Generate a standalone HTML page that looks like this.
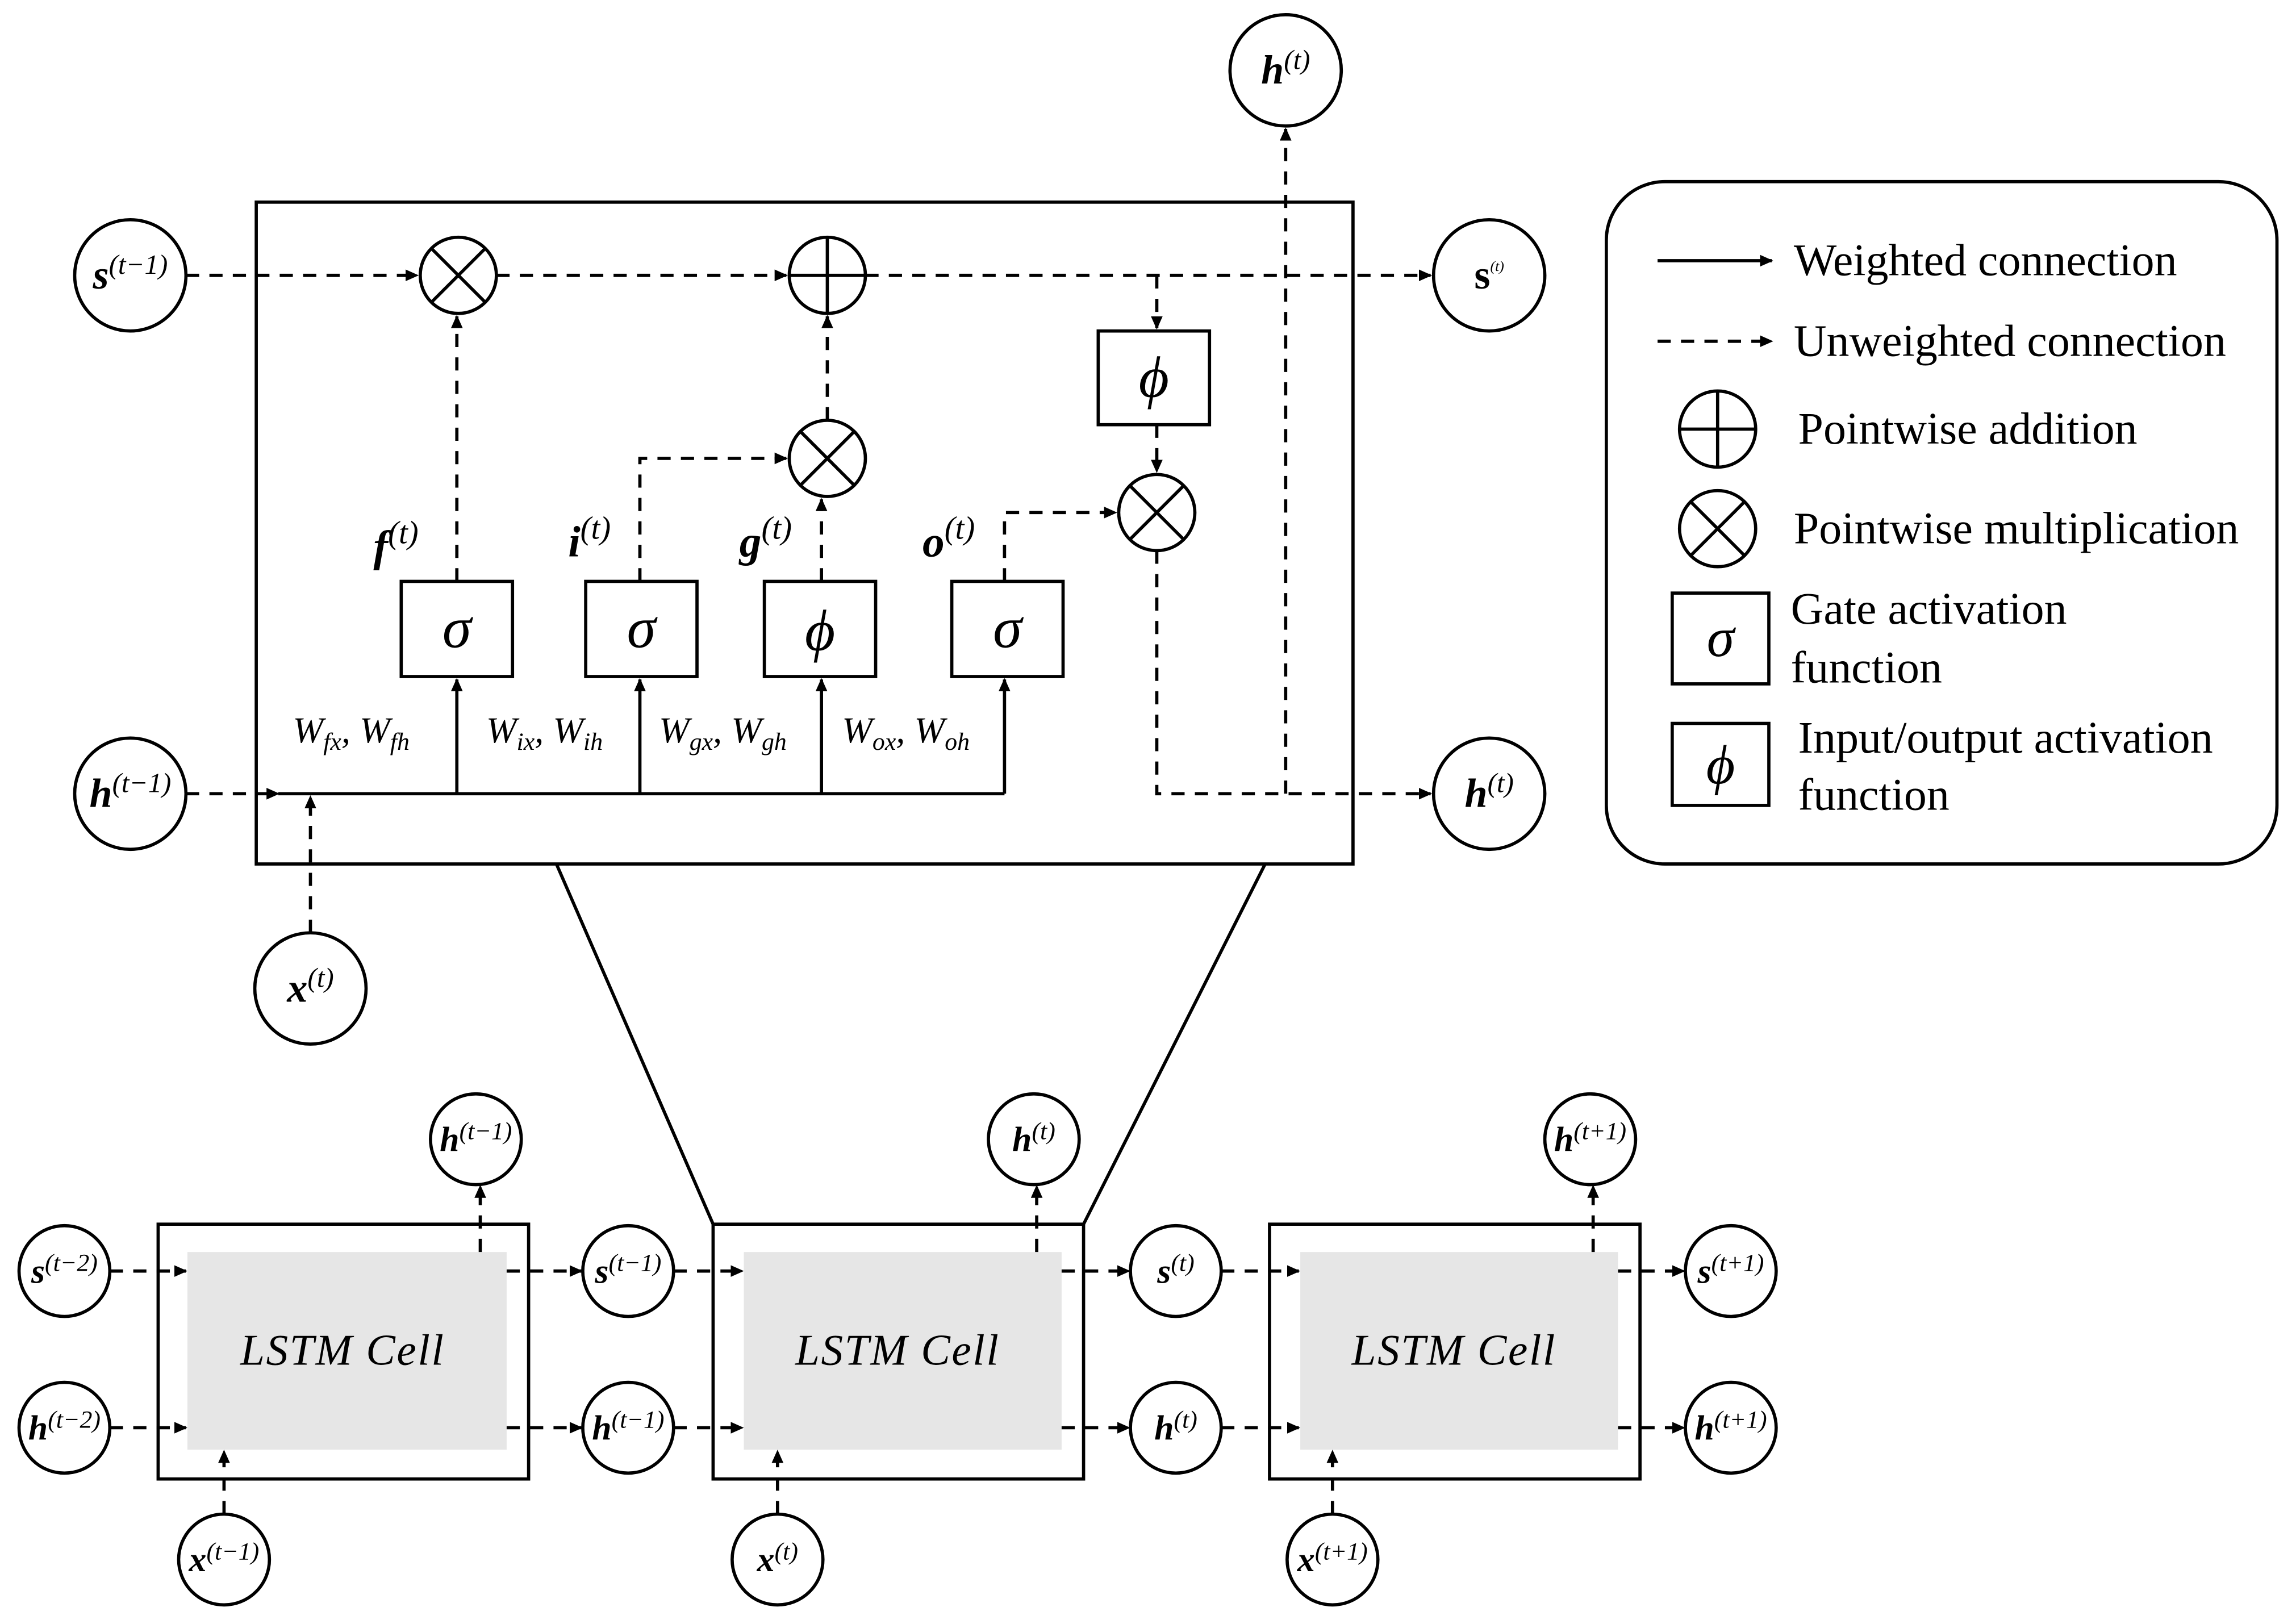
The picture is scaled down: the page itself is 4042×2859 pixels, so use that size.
<!DOCTYPE html>
<html><head><meta charset="utf-8"><style>
html,body{margin:0;padding:0;background:#fff}
svg{display:block}
text{font-family:"Liberation Serif","DejaVu Serif",serif}
</style></head><body>
<svg width="4042" height="2859" viewBox="0 0 1568 1109" xmlns="http://www.w3.org/2000/svg">
<defs>
<marker id="a" markerWidth="10" markerHeight="10" refX="8" refY="4" orient="auto" markerUnits="userSpaceOnUse"><path d="M0,0 L9,4 L0,8 z" fill="#000"/></marker>
</defs>
<g fill="none" stroke="#000" stroke-width="2.2">
<rect x="175" y="138" width="749" height="452"/>
<line x1="380" y1="590" x2="487" y2="836"/>
<line x1="864" y1="590" x2="740" y2="836"/>
<rect x="1097" y="124" width="458" height="466" rx="40"/>
<circle cx="89" cy="188" r="38"/>
<circle cx="89" cy="542" r="38"/>
<circle cx="212" cy="675" r="38"/>
<circle cx="878" cy="48" r="38"/>
<circle cx="1017" cy="188" r="38"/>
<circle cx="1017" cy="542" r="38"/>
<circle cx="313" cy="188" r="26"/><path d="M295,170 L331,206 M331,170 L295,206"/>
<circle cx="565" cy="188" r="26"/><path d="M539,188 H591 M565,162 V214"/>
<circle cx="565" cy="313" r="26"/><path d="M547,295 L583,331 M583,295 L547,331"/>
<circle cx="790" cy="350" r="26"/><path d="M772,332 L808,368 M808,332 L772,368"/>
<rect x="274" y="397" width="76" height="65"/>
<rect x="400" y="397" width="76" height="65"/>
<rect x="522" y="397" width="76" height="65"/>
<rect x="650" y="397" width="76" height="65"/>
<rect x="750" y="226" width="76" height="64"/>
<path d="M190,542 H686"/>
<path d="M312,542 V464" marker-end="url(#a)"/>
<path d="M437,542 V464" marker-end="url(#a)"/>
<path d="M561,542 V464" marker-end="url(#a)"/>
<path d="M686,542 V464" marker-end="url(#a)"/>
</g>
<g fill="none" stroke="#000" stroke-width="2.2" stroke-dasharray="9,7">
<path d="M127,188 H285" marker-end="url(#a)"/>
<path d="M339,188 H537" marker-end="url(#a)"/>
<path d="M591,188 H977" marker-end="url(#a)"/>
<path d="M790,188 V224" marker-end="url(#a)"/>
<path d="M790,290 V322" marker-end="url(#a)"/>
<path d="M312,397 V216" marker-end="url(#a)"/>
<path d="M437,397 V313 H537" marker-end="url(#a)"/>
<path d="M561,397 V341" marker-end="url(#a)"/>
<path d="M565,287 V216" marker-end="url(#a)"/>
<path d="M686,397 V350 H762" marker-end="url(#a)"/>
<path d="M790,376 V542 H977" marker-end="url(#a)"/>
<path d="M878,542 V88" marker-end="url(#a)"/>
<path d="M127,542 H190" marker-end="url(#a)"/>
<path d="M212,637 V544" marker-end="url(#a)"/>
</g>
<g fill="none" stroke="#000" stroke-width="2.2">
<path d="M1132,178 H1210" marker-end="url(#a)"/>
<path d="M1132,233 H1210" stroke-dasharray="9,7" marker-end="url(#a)"/>
<circle cx="1173" cy="293" r="26"/><path d="M1147,293 H1199 M1173,267 V319"/>
<circle cx="1173" cy="361" r="26"/><path d="M1155,343 L1191,379 M1191,343 L1155,379"/>
<rect x="1142" y="405" width="66" height="62"/>
<rect x="1142" y="494" width="66" height="56"/>
</g>
<g font-size="31" fill="#000">
<text x="1225" y="188">Weighted connection</text>
<text x="1225" y="243">Unweighted connection</text>
<text x="1228" y="303">Pointwise addition</text>
<text x="1225" y="371">Pointwise multiplication</text>
<text x="1223" y="426">Gate activation</text>
<text x="1223" y="466">function</text>
<text x="1228" y="514">Input/output activation</text>
<text x="1228" y="553">function</text>
</g>
<g font-style="italic" fill="#000" text-anchor="middle">
<text x="1175" y="448" font-size="38">σ</text>
<text x="1175" y="535" font-size="38">ϕ</text>
<text x="312" y="442" font-size="40">σ</text>
<text x="438" y="442" font-size="40">σ</text>
<text x="560" y="444" font-size="40">ϕ</text>
<text x="688" y="442" font-size="40">σ</text>
<text x="788" y="271" font-size="40">ϕ</text>
</g>
<g font-style="italic" fill="#000" font-size="25">
<text x="200" y="507">W<tspan font-size="17" dy="5">fx</tspan><tspan dy="-5">, W</tspan><tspan font-size="17" dy="5">fh</tspan></text>
<text x="332" y="507">W<tspan font-size="17" dy="5">ix</tspan><tspan dy="-5">, W</tspan><tspan font-size="17" dy="5">ih</tspan></text>
<text x="450" y="507">W<tspan font-size="17" dy="5">gx</tspan><tspan dy="-5">, W</tspan><tspan font-size="17" dy="5">gh</tspan></text>
<text x="575" y="507">W<tspan font-size="17" dy="5">ox</tspan><tspan dy="-5">, W</tspan><tspan font-size="17" dy="5">oh</tspan></text>
</g>
<g font-style="italic" fill="#000">
<text x="255" y="383" font-size="30" font-weight="bold">f<tspan font-size="22" font-weight="normal" dy="-12">(t)</tspan></text>
<text x="388" y="380" font-size="30" font-weight="bold">i<tspan font-size="22" font-weight="normal" dy="-12">(t)</tspan></text>
<text x="505" y="380" font-size="30" font-weight="bold">g<tspan font-size="22" font-weight="normal" dy="-12">(t)</tspan></text>
<text x="630" y="380" font-size="30" font-weight="bold">o<tspan font-size="22" font-weight="normal" dy="-12">(t)</tspan></text>
</g>
<g font-style="italic" fill="#000" font-size="28" text-anchor="middle">
<text x="89" y="197"><tspan font-weight="bold">s</tspan><tspan font-size="19" dy="-10">(t−1)</tspan></text>
<text x="89" y="551"><tspan font-weight="bold">h</tspan><tspan font-size="19" dy="-10">(t−1)</tspan></text>
<text x="212" y="684"><tspan font-weight="bold">x</tspan><tspan font-size="19" dy="-10">(t)</tspan></text>
<text x="878" y="57"><tspan font-weight="bold">h</tspan><tspan font-size="19" dy="-10">(t)</tspan></text>
<text x="1017" y="197"><tspan font-weight="bold" font-style="normal">s</tspan><tspan font-size="10" dy="-12">(t)</tspan></text>
<text x="1017" y="551"><tspan font-weight="bold">h</tspan><tspan font-size="19" dy="-10">(t)</tspan></text>
</g>
<g fill="none" stroke="#000" stroke-width="2.2">
<rect x="108" y="836" width="253" height="174"/>
<rect x="487" y="836" width="253" height="174"/>
<rect x="867" y="836" width="253" height="174"/>
</g>
<g fill="#e6e6e6">
<rect x="128" y="855" width="218" height="135"/>
<rect x="508" y="855" width="217" height="135"/>
<rect x="888" y="855" width="217" height="135"/>
</g>
<g font-style="italic" font-size="30" fill="#000" text-anchor="middle">
<text x="234" y="932" letter-spacing="1">LSTM  Cell</text>
<text x="613" y="932" letter-spacing="1">LSTM  Cell</text>
<text x="993" y="932" letter-spacing="1">LSTM  Cell</text>
</g>
<g fill="#fff" stroke="#000" stroke-width="2.2">
<circle cx="325" cy="778" r="31"/><circle cx="44" cy="868" r="31"/><circle cx="44" cy="975" r="31"/>
<circle cx="429" cy="868" r="31"/><circle cx="429" cy="975" r="31"/><circle cx="153" cy="1065" r="31"/>
<circle cx="706" cy="778" r="31"/><circle cx="803" cy="868" r="31"/><circle cx="803" cy="975" r="31"/><circle cx="531" cy="1065" r="31"/>
<circle cx="1086" cy="778" r="31"/><circle cx="1182" cy="868" r="31"/><circle cx="1182" cy="975" r="31"/><circle cx="910" cy="1065" r="31"/>
</g>
<g fill="none" stroke="#000" stroke-width="2.2" stroke-dasharray="9,7">
<path d="M75,868 H127" marker-end="url(#a)"/><path d="M75,975 H127" marker-end="url(#a)"/>
<path d="M346,868 H397" marker-end="url(#a)"/><path d="M346,975 H397" marker-end="url(#a)"/>
<path d="M328,855 V810" marker-end="url(#a)"/><path d="M153,1034 V991" marker-end="url(#a)"/>
<path d="M460,868 H507" marker-end="url(#a)"/><path d="M460,975 H507" marker-end="url(#a)"/>
<path d="M725,868 H771" marker-end="url(#a)"/><path d="M725,975 H771" marker-end="url(#a)"/>
<path d="M708,855 V810" marker-end="url(#a)"/><path d="M531,1034 V991" marker-end="url(#a)"/>
<path d="M834,868 H887" marker-end="url(#a)"/><path d="M834,975 H887" marker-end="url(#a)"/>
<path d="M1105,868 H1150" marker-end="url(#a)"/><path d="M1105,975 H1150" marker-end="url(#a)"/>
<path d="M1088,855 V810" marker-end="url(#a)"/><path d="M910,1034 V991" marker-end="url(#a)"/>
</g>
<g font-style="italic" fill="#000" font-size="24" text-anchor="middle">
<text x="325" y="786"><tspan font-weight="bold">h</tspan><tspan font-size="17" dy="-8">(t−1)</tspan></text>
<text x="44" y="876"><tspan font-weight="bold">s</tspan><tspan font-size="17" dy="-8">(t−2)</tspan></text>
<text x="44" y="983"><tspan font-weight="bold">h</tspan><tspan font-size="17" dy="-8">(t−2)</tspan></text>
<text x="429" y="876"><tspan font-weight="bold">s</tspan><tspan font-size="17" dy="-8">(t−1)</tspan></text>
<text x="429" y="983"><tspan font-weight="bold">h</tspan><tspan font-size="17" dy="-8">(t−1)</tspan></text>
<text x="153" y="1073"><tspan font-weight="bold">x</tspan><tspan font-size="17" dy="-8">(t−1)</tspan></text>
<text x="706" y="786"><tspan font-weight="bold">h</tspan><tspan font-size="17" dy="-8">(t)</tspan></text>
<text x="803" y="876"><tspan font-weight="bold">s</tspan><tspan font-size="17" dy="-8">(t)</tspan></text>
<text x="803" y="983"><tspan font-weight="bold">h</tspan><tspan font-size="17" dy="-8">(t)</tspan></text>
<text x="531" y="1073"><tspan font-weight="bold">x</tspan><tspan font-size="17" dy="-8">(t)</tspan></text>
<text x="1086" y="786"><tspan font-weight="bold">h</tspan><tspan font-size="17" dy="-8">(t+1)</tspan></text>
<text x="1182" y="876"><tspan font-weight="bold">s</tspan><tspan font-size="17" dy="-8">(t+1)</tspan></text>
<text x="1182" y="983"><tspan font-weight="bold">h</tspan><tspan font-size="17" dy="-8">(t+1)</tspan></text>
<text x="910" y="1073"><tspan font-weight="bold">x</tspan><tspan font-size="17" dy="-8">(t+1)</tspan></text>
</g>
</svg>
</body></html>
